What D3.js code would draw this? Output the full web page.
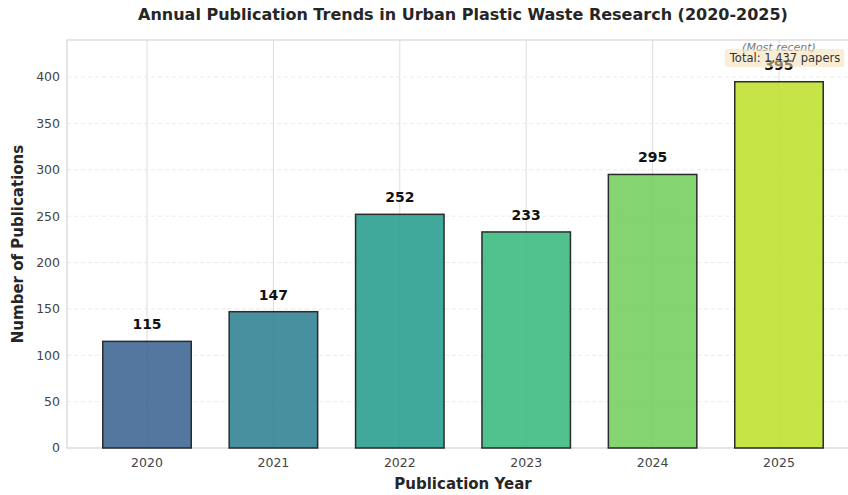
<!DOCTYPE html>
<html>
<head>
<meta charset="utf-8">
<script src="https://cdn.jsdelivr.net/npm/d3@7"></script>
<style>
  body { margin: 0; background: #fff; }
  text { font-family: "DejaVu Sans", sans-serif; }
</style>
</head>
<body>
<div id="chart"></div>
<script>
// data
const years = ["2020", "2021", "2022", "2023", "2024", "2025"]
const counts = [115, 147, 252, 233, 295, 395]
const yTicks = [0, 50, 100, 150, 200, 250, 300, 350, 400]
const colorStops = [0.3, 0.42, 0.54, 0.66, 0.78, 0.9]

var width = 848, height = 495
var margin = {top: 40, left: 67, bottom: 47}
var plotRight = 859  // the frame runs past the picture edge

var svg = d3.select("#chart").append("svg")
  .attr("width", width)
  .attr("height", height)

var x = d3.scaleLinear().domain([-0.633, years.length - 1 + 0.633]).range([margin.left, plotRight])
var y = d3.scaleLinear().domain([0, 440]).range([height - margin.bottom, margin.top])
var barW = x(0.7) - x(0)

// grid
svg.selectAll(".hgrid").data(yTicks).enter().append("line")
  .attr("x1", margin.left).attr("x2", plotRight)
  .attr("y1", d => y(d)).attr("y2", d => y(d))
  .style("stroke", "#e6e6e6").style("stroke-dasharray", "4,3").style("stroke-width", 0.8)

svg.selectAll(".vgrid").data(years).enter().append("line")
  .attr("x1", (d, i) => x(i)).attr("x2", (d, i) => x(i))
  .attr("y1", y(0)).attr("y2", margin.top)
  .style("stroke", "#dcdcdc").style("stroke-width", 1)

// frame
svg.append("rect")
  .attr("x", margin.left).attr("y", margin.top)
  .attr("width", plotRight - margin.left).attr("height", y(0) - margin.top)
  .style("fill", "none").style("stroke", "#d6d6d6").style("stroke-width", 1.2)

// bars
svg.selectAll(".bar").data(counts).enter().append("rect")
  .attr("x", (d, i) => x(i) - barW / 2)
  .attr("y", d => y(d))
  .attr("width", barW)
  .attr("height", d => y(0) - y(d))
  .style("fill", (d, i) => d3.interpolateViridis(colorStops[i]))
  .style("fill-opacity", 0.85)
  .style("stroke", "#2b2b2b").style("stroke-width", 1.5)

// value labels
svg.selectAll(".val").data(counts).enter().append("text")
  .attr("x", (d, i) => x(i))
  .attr("y", d => y(d) - 12)
  .attr("text-anchor", "middle")
  .style("font-size", "14px").style("font-weight", "bold").style("fill", "#111")
  .text(d => d)

// axes tick labels
svg.selectAll(".ytick").data(yTicks).enter().append("text")
  .attr("x", margin.left - 7)
  .attr("y", d => y(d))
  .attr("dy", "0.35em")
  .attr("text-anchor", "end")
  .style("font-size", "12.5px").style("fill", "#444")
  .text(d => d)

svg.selectAll(".xtick").data(years).enter().append("text")
  .attr("x", (d, i) => x(i))
  .attr("y", y(0) + 19)
  .attr("text-anchor", "middle")
  .style("font-size", "12.5px").style("fill", "#444")
  .text(d => d)

// titles
svg.append("text")
  .attr("x", 463).attr("y", 20)
  .attr("text-anchor", "middle")
  .style("font-size", "16px").style("font-weight", "bold").style("fill", "#262626")
  .text("Annual Publication Trends in Urban Plastic Waste Research (2020-2025)")

svg.append("text")
  .attr("x", 463).attr("y", 489)
  .attr("text-anchor", "middle")
  .style("font-size", "15px").style("font-weight", "bold").style("fill", "#262626")
  .text("Publication Year")

svg.append("text")
  .attr("transform", "translate(23," + ((margin.top + y(0)) / 2) + ") rotate(-90)")
  .attr("text-anchor", "middle")
  .style("font-size", "15px").style("font-weight", "bold").style("fill", "#262626")
  .text("Number of Publications")

// annotations
var last = counts.length - 1
svg.append("text")
  .attr("x", x(last)).attr("y", 51)
  .attr("text-anchor", "middle")
  .style("font-size", "11px").style("font-style", "italic").style("fill", "#777")
  .text("(Most recent)")

var total = d3.sum(counts)
var boxG = svg.append("g")
var boxText = boxG.append("text")
  .attr("x", 785).attr("y", 62)
  .attr("text-anchor", "middle")
  .style("font-size", "11.5px").style("fill", "#333")
  .text("Total: " + d3.format(",")(total) + " papers")
var bb = boxText.node().getBBox()
boxG.insert("rect", "text")
  .attr("x", bb.x - 4).attr("y", bb.y - 2)
  .attr("width", bb.width + 8).attr("height", bb.height + 4)
  .attr("rx", 3)
  .style("fill", "#f5deb3").style("fill-opacity", 0.55)
</script>
</body>
</html>
